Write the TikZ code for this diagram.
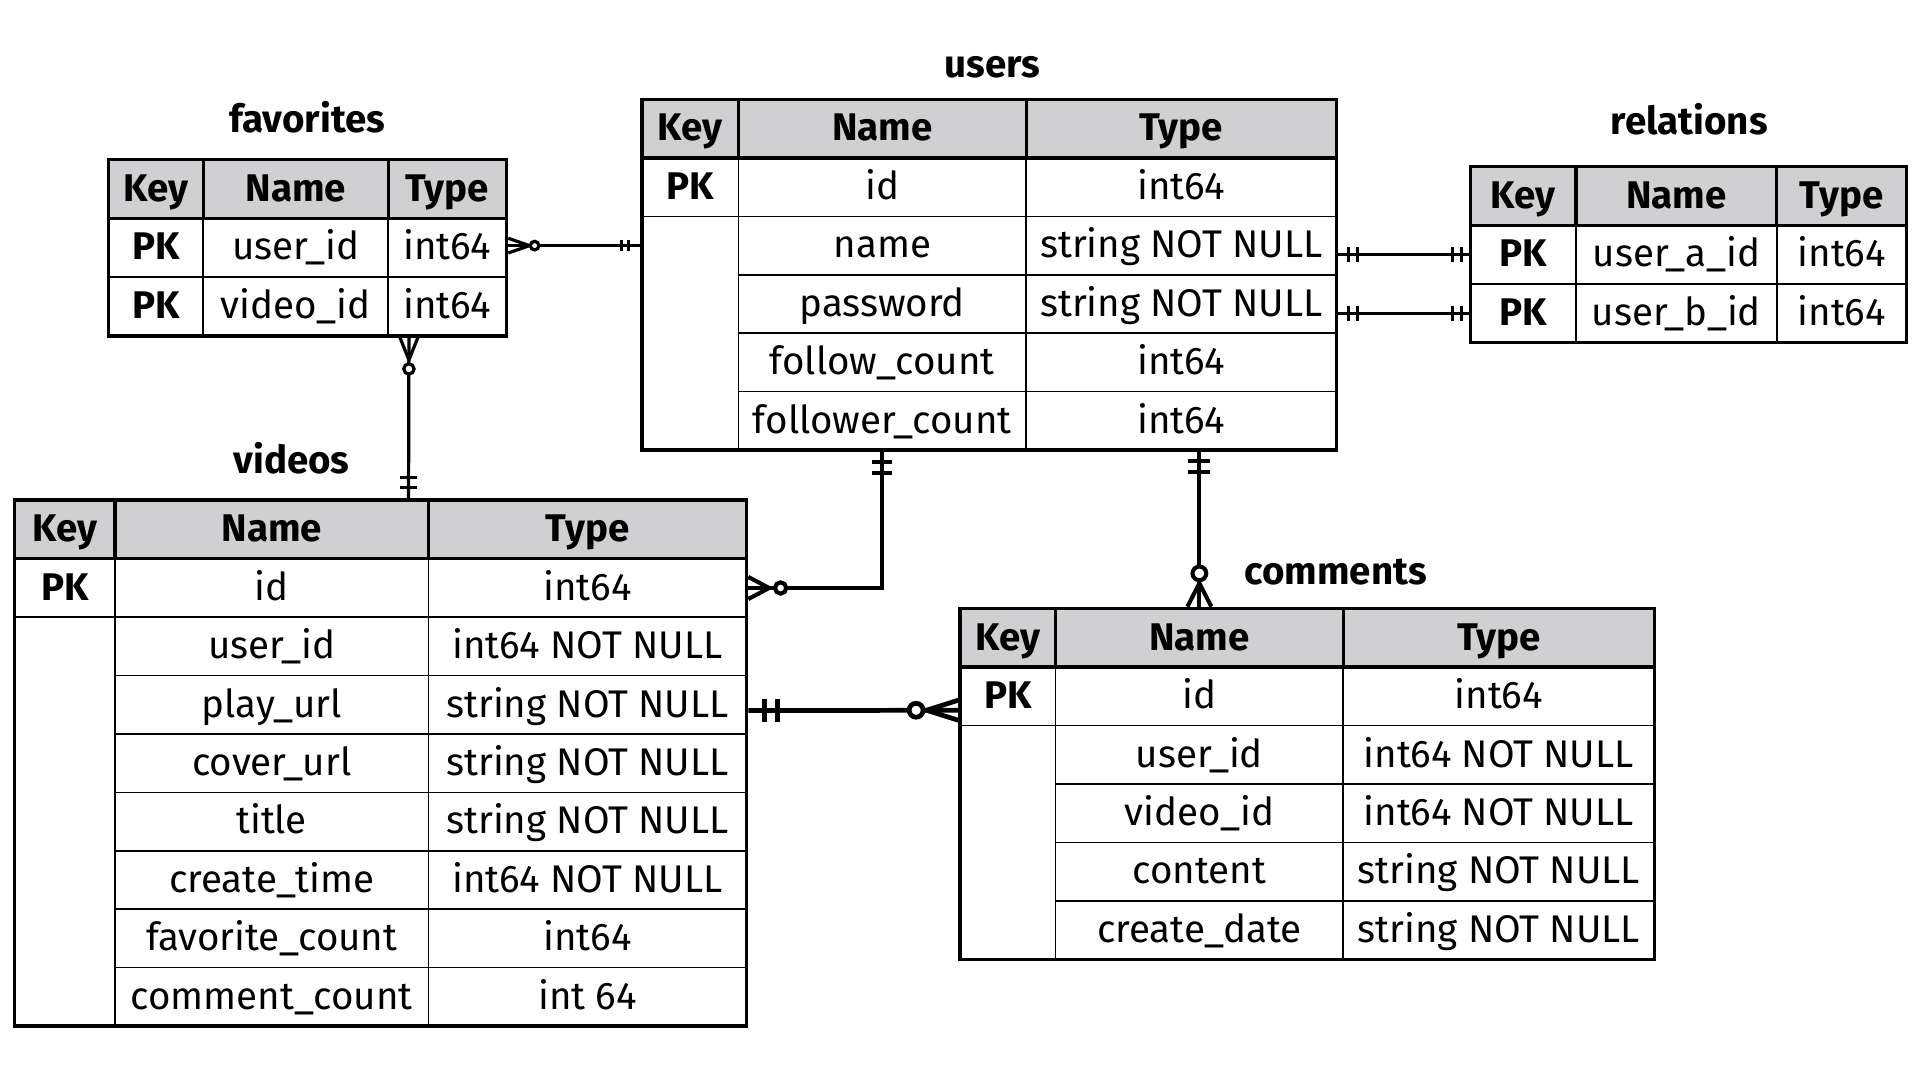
\documentclass[tikz,border=0pt]{standalone}
\usepackage{fontspec}
\setmainfont{Fira Sans}
\usetikzlibrary{fit,calc}
\definecolor{headgray}{RGB}{208,207,209}

\begin{document}
\begin{tikzpicture}[scale=0.2,
		tbl/.style={draw=black, line width=1.5pt, inner sep=0pt},
		cell/.style={anchor=center, text height=15.2pt, text depth=3.76pt},
		hcell/.style={cell, font=\fontsize{17.9}{21}\selectfont\bfseries},
		title/.style={anchor=base, font=\fontsize{17.9}{21}\selectfont\bfseries},
		thin/.style={line width=0.75pt},
		thick/.style={line width=1.5pt},
		pics/onlyone/.style args={#1/#2/#3}{code={
			\draw [scale=0.2] (#1,-#3) -- (#1,#3) (#2,-#3) -- (#2,#3);}},
		pics/zeromany/.style args={#1/#2/#3/#4}{code={
			\draw [scale=0.2] (0,#2) -- (#1,0) -- (0,-#2);
			\draw [scale=0.2, fill=white] (#3,0) circle (#4);}}]
		\tikzstyle{every node}+=[inner sep=0pt, font=\fontsize{17.9}{21}\selectfont]
		\useasboundingbox (0,0) rectangle (156.8,-88.2);
		% favorites
		\fill [headgray] (8.85,-13.03) rectangle (41.38,-17.83);
		\draw [thick] (8.85,-17.83) -- (41.38,-17.83) (16.6,-13.03) -- (16.6,-17.83) (31.7,-13.03) -- (31.7,-17.83);
		\draw [thin] (8.85,-22.61) -- (41.38,-22.61);
		\draw [thin] (16.6,-17.83) -- (16.6,-27.44) (31.7,-17.83) -- (31.7,-27.44);
		\node [tbl, fit={(8.85,-13.03) (41.38,-27.44)}] (fav) {};
		\node [title] (fav-title) at (25.1,-10.85) {favorites};
		\node [hcell] (f-kh) at (12.73,-15.43) {Key};
		\node [hcell] (f-nh) at (24.15,-15.43) {Name};
		\node [hcell] (f-th) at (36.54,-15.43) {Type};
		\node [hcell] (f-k1) at (12.73,-20.22) {PK};
		\node [cell] (f-n1) at (24.15,-20.22) {user\_id};
		\node [cell] (f-t1) at (36.54,-20.22) {int64};
		\node [hcell] (f-k2) at (12.73,-25.0) {PK};
		\node [cell] (f-n2) at (24.15,-25.0) {video\_id};
		\node [cell] (f-t2) at (36.54,-25.0) {int64};
		% users
		\fill [headgray] (52.43,-8.1) rectangle (109.16,-12.9);
		\draw [thick] (52.43,-12.9) -- (109.16,-12.9) (60.3,-8.1) -- (60.3,-12.9) (83.8,-8.1) -- (83.8,-12.9);
		\draw [thin] (52.43,-17.67) -- (109.16,-17.67);
		\draw [thin] (60.3,-22.44) -- (109.16,-22.44);
		\draw [thin] (60.3,-27.21) -- (109.16,-27.21);
		\draw [thin] (60.3,-31.98) -- (109.16,-31.98);
		\draw [thin] (60.3,-12.9) -- (60.3,-36.75) (83.8,-12.9) -- (83.8,-36.75);
		\node [tbl, fit={(52.43,-8.1) (109.16,-36.75)}] (usr) {};
		\node [title] (usr-title) at (81.07,-6.3) {users};
		\node [hcell] (u-kh) at (56.37,-10.5) {Key};
		\node [hcell] (u-nh) at (72.05,-10.5) {Name};
		\node [hcell] (u-th) at (96.48,-10.5) {Type};
		\node [hcell] (u-k1) at (56.37,-15.29) {PK};
		\node [cell] (u-n1) at (72.05,-15.29) {id};
		\node [cell] (u-t1) at (96.48,-15.29) {int64};
		\node [cell] (u-n2) at (72.05,-20.06) {name};
		\node [cell] (u-t2) at (96.48,-20.06) {string NOT NULL};
		\node [cell] (u-n3) at (72.05,-24.83) {password};
		\node [cell] (u-t3) at (96.48,-24.83) {string NOT NULL};
		\node [cell] (u-n4) at (72.05,-29.6) {follow\_count};
		\node [cell] (u-t4) at (96.48,-29.6) {int64};
		\node [cell] (u-n5) at (72.05,-34.37) {follower\_count};
		\node [cell] (u-t5) at (96.48,-34.37) {int64};
		% relations
		\fill [headgray] (120.1,-13.6) rectangle (155.7,-18.4);
		\draw [thick] (120.1,-18.4) -- (155.7,-18.4) (128.7,-13.6) -- (128.7,-18.4) (145.1,-13.6) -- (145.1,-18.4);
		\draw [thin] (120.1,-23.2) -- (155.7,-23.2);
		\draw [thin] (128.7,-18.4) -- (128.7,-28.0) (145.1,-18.4) -- (145.1,-28.0);
		\node [tbl, fit={(120.1,-13.6) (155.7,-28.0)}] (rel) {};
		\node [title] (rel-title) at (137.95,-10.95) {relations};
		\node [hcell] (r-kh) at (124.4,-16.0) {Key};
		\node [hcell] (r-nh) at (136.9,-16.0) {Name};
		\node [hcell] (r-th) at (150.4,-16.0) {Type};
		\node [hcell] (r-k1) at (124.4,-20.8) {PK};
		\node [cell] (r-n1) at (136.9,-20.8) {user\_a\_id};
		\node [cell] (r-t1) at (150.4,-20.8) {int64};
		\node [hcell] (r-k2) at (124.4,-25.6) {PK};
		\node [cell] (r-n2) at (136.9,-25.6) {user\_b\_id};
		\node [cell] (r-t2) at (150.4,-25.6) {int64};
		% videos
		\fill [headgray] (1.2,-40.83) rectangle (60.98,-45.63);
		\draw [thick] (1.2,-45.63) -- (60.98,-45.63) (9.4,-40.83) -- (9.4,-45.63) (34.98,-40.83) -- (34.98,-45.63);
		\draw [thin] (1.2,-50.4) -- (60.98,-50.4);
		\draw [thin] (9.4,-55.17) -- (60.98,-55.17);
		\draw [thin] (9.4,-59.94) -- (60.98,-59.94);
		\draw [thin] (9.4,-64.71) -- (60.98,-64.71);
		\draw [thin] (9.4,-69.48) -- (60.98,-69.48);
		\draw [thin] (9.4,-74.25) -- (60.98,-74.25);
		\draw [thin] (9.4,-79.02) -- (60.98,-79.02);
		\draw [thin] (9.4,-45.63) -- (9.4,-83.79) (34.98,-45.63) -- (34.98,-83.79);
		\node [tbl, fit={(1.2,-40.83) (60.98,-83.79)}] (vid) {};
		\node [title] (vid-title) at (23.81,-38.65) {videos};
		\node [hcell] (v-kh) at (5.3,-43.23) {Key};
		\node [hcell] (v-nh) at (22.19,-43.23) {Name};
		\node [hcell] (v-th) at (47.98,-43.23) {Type};
		\node [hcell] (v-k1) at (5.3,-48.02) {PK};
		\node [cell] (v-n1) at (22.19,-48.02) {id};
		\node [cell] (v-t1) at (47.98,-48.02) {int64};
		\node [cell] (v-n2) at (22.19,-52.79) {user\_id};
		\node [cell] (v-t2) at (47.98,-52.79) {int64 NOT NULL};
		\node [cell] (v-n3) at (22.19,-57.56) {play\_url};
		\node [cell] (v-t3) at (47.98,-57.56) {string NOT NULL};
		\node [cell] (v-n4) at (22.19,-62.33) {cover\_url};
		\node [cell] (v-t4) at (47.98,-62.33) {string NOT NULL};
		\node [cell] (v-n5) at (22.19,-67.1) {title};
		\node [cell] (v-t5) at (47.98,-67.1) {string NOT NULL};
		\node [cell] (v-n6) at (22.19,-71.87) {create\_time};
		\node [cell] (v-t6) at (47.98,-71.87) {int64 NOT NULL};
		\node [cell] (v-n7) at (22.19,-76.64) {favorite\_count};
		\node [cell] (v-t7) at (47.98,-76.64) {int64};
		\node [cell] (v-n8) at (22.19,-81.41) {comment\_count};
		\node [cell] (v-t8) at (47.98,-81.41) {int 64};
		% comments
		\fill [headgray] (78.4,-49.68) rectangle (135.1,-54.48);
		\draw [thick] (78.4,-54.48) -- (135.1,-54.48) (86.2,-49.68) -- (86.2,-54.48) (109.7,-49.68) -- (109.7,-54.48);
		\draw [thin] (78.4,-59.25) -- (135.1,-59.25);
		\draw [thin] (86.2,-64.02) -- (135.1,-64.02);
		\draw [thin] (86.2,-68.79) -- (135.1,-68.79);
		\draw [thin] (86.2,-73.56) -- (135.1,-73.56);
		\draw [thin] (86.2,-54.48) -- (86.2,-78.33) (109.7,-54.48) -- (109.7,-78.33);
		\node [tbl, fit={(78.4,-49.68) (135.1,-78.33)}] (cmt) {};
		\node [title] (cmt-title) at (109.09,-47.75) {comments};
		\node [hcell] (c-kh) at (82.3,-52.08) {Key};
		\node [hcell] (c-nh) at (97.95,-52.08) {Name};
		\node [hcell] (c-th) at (122.4,-52.08) {Type};
		\node [hcell] (c-k1) at (82.3,-56.87) {PK};
		\node [cell] (c-n1) at (97.95,-56.87) {id};
		\node [cell] (c-t1) at (122.4,-56.87) {int64};
		\node [cell] (c-n2) at (97.95,-61.64) {user\_id};
		\node [cell] (c-t2) at (122.4,-61.64) {int64 NOT NULL};
		\node [cell] (c-n3) at (97.95,-66.41) {video\_id};
		\node [cell] (c-t3) at (122.4,-66.41) {int64 NOT NULL};
		\node [cell] (c-n4) at (97.95,-71.18) {content};
		\node [cell] (c-t4) at (122.4,-71.18) {string NOT NULL};
		\node [cell] (c-n5) at (97.95,-75.95) {create\_date};
		\node [cell] (c-t5) at (122.4,-75.95) {string NOT NULL};
		% favorites -- users
		\draw [line width=1.5pt] (fav.east |- u-n2) -- (usr.west |- u-n2);
		\pic [line width=1.5pt] at (fav.east |- u-n2) {zeromany=1.72/0.6/2.15/0.35};
		\pic [line width=1.5pt, rotate=180] at (usr.west |- u-n2) {onlyone=0.98/1.55/0.46};
		% favorites -- videos
		\draw [line width=1.5pt] ($(fav.south west)!0.7525!(fav.south east)$) -- ($(vid.north west)!0.5379!(vid.north east)$);
		\pic [line width=1.5pt, rotate=-90] at ($(fav.south west)!0.7525!(fav.south east)$) {zeromany=1.82/0.73/2.56/0.42};
		\pic [line width=1.5pt, rotate=90] at ($(vid.north west)!0.5379!(vid.north east)$) {onlyone=0.87/1.71/0.73};
		% users -- videos
		\draw [line width=1.9pt] (usr.south -| u-nh) |- (vid.east |- v-n1);
		\pic [line width=1.9pt, rotate=-90] at (usr.south -| u-nh) {onlyone=0.87/1.77/0.82};
		\pic [line width=1.9pt] at (vid.east |- v-n1) {zeromany=1.7/0.9/2.64/0.46};
		% users -- comments
		\draw [line width=1.9pt] (usr.south -| c-nh) -- (cmt.north -| c-nh);
		\pic [line width=1.9pt, rotate=-90] at (usr.south -| c-nh) {onlyone=0.76/1.63/0.9};
		\pic [line width=1.9pt, rotate=90] at (cmt.north -| c-nh) {zeromany=1.91/0.98/2.72/0.56};
		% videos -- comments
		\draw [line width=2.2pt] ($(vid.north east)!0.4011!(vid.south east)$) -- ($(cmt.north west)!0.2925!(cmt.south west)$);
		\pic [line width=2.3pt] at ($(vid.north east)!0.4011!(vid.south east)$) {onlyone=1.31/2.39/0.92};
		\pic [line width=2.2pt, rotate=180] at ($(cmt.north west)!0.2925!(cmt.south west)$) {zeromany=2.6/0.82/3.45/0.57};
		% users -- relations
		\draw [line width=1.25pt] (usr.east |- r-n1) -- (rel.west |- r-n1);
		\pic [line width=1.25pt] at (usr.east |- r-n1) {onlyone=0.82/1.58/0.6};
		\pic [line width=1.25pt, rotate=180] at (rel.west |- r-n1) {onlyone=0.6/1.36/0.6};
		\draw [line width=1.25pt] (usr.east |- r-n2) -- (rel.west |- r-n2);
		\pic [line width=1.25pt] at (usr.east |- r-n2) {onlyone=0.82/1.58/0.6};
		\pic [line width=1.25pt, rotate=180] at (rel.west |- r-n2) {onlyone=0.6/1.36/0.6};
	\end{tikzpicture}
\end{document}
